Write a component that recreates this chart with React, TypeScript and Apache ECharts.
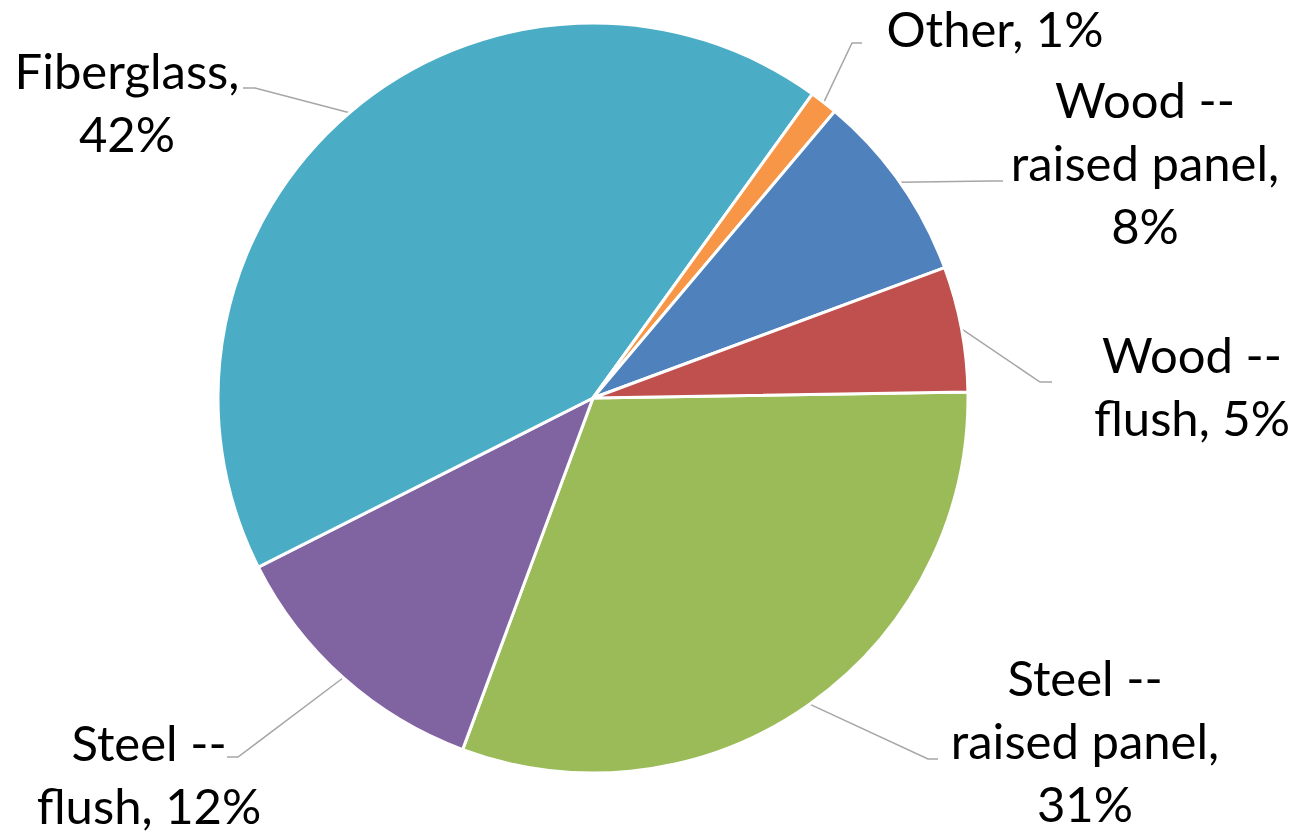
import React, { useEffect, useRef } from "react";
import * as echarts from "echarts";

// Door material shares (percent), in clockwise order from 3 o'clock
const categories = [
  "Steel -- raised panel",
  "Steel -- flush",
  "Fiberglass",
  "Other",
  "Wood -- raised panel",
  "Wood -- flush",
];
const shares = [30.9, 11.9, 42.4, 1.2, 8.2, 5.4];
const labelNames = [
  "Steel --\nraised panel,",
  "Steel --\nflush,",
  "Fiberglass,",
  "Other,",
  "Wood --\nraised panel,",
  "Wood --\nflush,",
];
const labelJoins = ["\n", " ", "\n", " ", "\n", " "];
const colors = ["#9BBB59", "#8064A2", "#4BACC6", "#F79646", "#4F81BD", "#C0504D"];

// layout
const CX = 593;
const CY = 398;
const R = 375;
const START = 0.9;
// label centre, leader line end, horizontal tail (signed)
const labelSpots = [
  { x: 1085, y: 740, ex: 938, ey: 759, tail: -10, lh: 63 },
  { x: 149, y: 773, ex: 227, ey: 757, tail: 11, lh: 63 },
  { x: 127, y: 101, ex: 243, ey: 88, tail: 12, lh: 63 },
  { x: 995, y: 28, ex: 862, ey: 43, tail: -10, lh: 50 },
  { x: 1145, y: 162, ex: 1003, ey: 181, tail: -13, lh: 63 },
  { x: 1192, y: 385, ex: 1052, ey: 382, tail: -12, lh: 63 },
];

export default function App() {
  const ref = useRef<HTMLDivElement>(null);
  useEffect(() => {
    if (!ref.current) return;
    const chart = echarts.init(ref.current, undefined, { renderer: "svg" });
    const total = shares.reduce((a, b) => a + b, 0);
    const mids: number[] = [];
    let cum = 0;
    shares.forEach((v) => {
      mids.push(((START - ((cum + v / 2) / total) * 360) * Math.PI) / 180);
      cum += v;
    });
    chart.setOption({
      animation: false,
      backgroundColor: "#ffffff",
      series: [
        {
          type: "pie",
          center: [CX, CY],
          radius: R,
          startAngle: START,
          clockwise: true,
          avoidLabelOverlap: false,
          silent: true,
          itemStyle: { borderColor: "#ffffff", borderWidth: 3 },
          label: {
            show: true,
            position: "outside",
            fontFamily: "Lato",
            fontSize: 49,
            lineHeight: 63,
            color: "#000000",
            formatter: (p: any) =>
              labelNames[p.dataIndex] + labelJoins[p.dataIndex] + Math.round(p.percent) + "%",
          },
          labelLine: {
            show: true,
            smooth: false,
            lineStyle: { color: "#A6A6A6", width: 1.5 },
          },
          labelLayout: (params: any) => {
            const i = params.dataIndex;
            const s = labelSpots[i];
            const a = mids[i];
            const p0 = [CX + R * Math.cos(a), CY - R * Math.sin(a)];
            const p1 = [s.ex + s.tail, s.ey];
            const p2 = [s.ex, s.ey];
            return {
              x: s.x,
              y: s.y,
              align: "center",
              verticalAlign: "middle",
              labelLinePoints: [p0, p1, p2],
            };
          },
          data: categories.map((n, i) => ({
            name: n,
            value: shares[i],
            itemStyle: { color: colors[i] },
            label: { lineHeight: labelSpots[i].lh },
          })),
        },
      ],
    });
    return () => chart.dispose();
  }, []);
  return (
    <div
      ref={ref}
      style={{ position: "absolute", left: 0, top: 0, width: 1299, height: 832 }}
    />
  );
}
